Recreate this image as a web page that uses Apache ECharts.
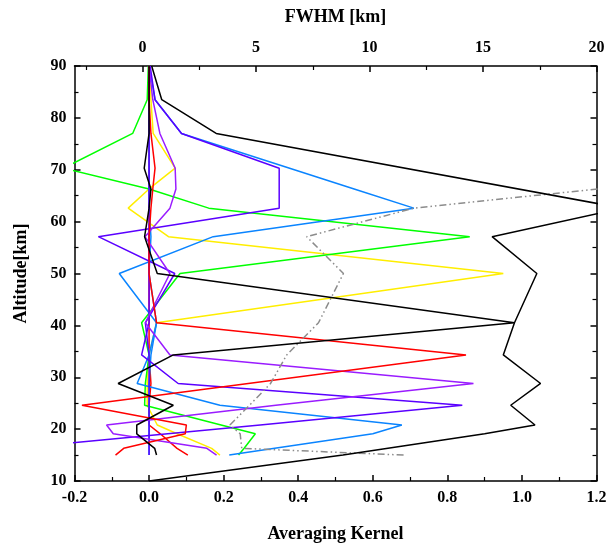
<!DOCTYPE html>
<html>
<head>
<meta charset="utf-8">
<script src="https://cdn.jsdelivr.net/npm/echarts@6/dist/echarts.min.js"></script>
<style>
  html, body { margin: 0; padding: 0; background: #fff; }
  #chart { width: 610px; height: 548px; }
</style>
</head>
<body>
<div id="chart"></div>
<script>
// Retrieval altitude levels (km) shared by the kernel rows
const altitudes = [15, 16.3, 19.1, 20.8, 24.6, 28.8, 34.3, 40.5, 50, 57.1, 62.6, 66.3, 70.3, 77, 83.5, 90];

// Averaging kernel rows, one value per altitude level
const akBlueLow   = [0.215, 0.337, 0.60, 0.678, 0.19, -0.032, 0.0, 0.02, 0.0, 0.005, 0.0, 0.0, 0.0, 0.0, 0.0, 0.0];
const akIndigoLow = [-0.30, -0.36, 0.05, 0.298, 0.84, 0.078, -0.02, 0.0, 0.0, 0.0, 0.0, 0.0, 0.0, 0.0, 0.0, 0.0];
const akViolet    = [0.181, 0.155, -0.096, -0.114, 0.34, 0.87, 0.056, -0.01, 0.056, -0.011, 0.056, 0.072, 0.07, 0.029, 0.01, 0.0];
const akRedMid    = [-0.09, -0.068, 0.097, 0.1, -0.18, 0.266, 0.85, 0.02, 0.0, 0.0, 0.005, 0.01, 0.016, 0.005, 0.0, 0.0];
const akRedLow    = [0.104, 0.075, 0.03, 0.0, 0.0, 0.005, 0.0, 0.0, 0.0, 0.0, 0.0, 0.0, 0.0, 0.0, 0.0, 0.0];
const akBlackMid  = [0.02, 0.015, -0.033, -0.033, 0.065, -0.083, 0.065, 0.98, 0.022, -0.012, 0.0, 0.005, -0.013, 0.0, 0.0, 0.0];
const akYellow    = [0.19, 0.168, 0.075, 0.022, -0.005, -0.005, 0.0, 0.02, 0.95, 0.052, -0.056, 0.0, 0.07, 0.011, 0.005, 0.003];
const akGreen     = [0.24, 0.255, 0.285, 0.193, -0.012, -0.01, 0.0, -0.02, 0.083, 0.86, 0.16, 0.0, -0.23, -0.044, -0.005, -0.002];
const akBlueHigh  = [0.0, 0.0, 0.0, 0.0, 0.0, 0.0, 0.005, 0.02, -0.08, 0.172, 0.71, 0.55, 0.377, 0.087, 0.016, 0.0];
const akIndigoHigh= [0.0, 0.0, 0.0, 0.0, 0.0, 0.0, 0.0, -0.01, 0.069, -0.136, 0.349, 0.349, 0.349, 0.087, 0.016, 0.003];

// Sum of the kernel rows (measurement response), own altitude grid
const responseAlt = [10, 15, 19.1, 20.8, 24.6, 28.8, 34.3, 40.5, 50, 57.1, 62.6, 77, 83.5, 90];
const responseVal = [0.0, 0.52, 0.90, 1.035, 0.97, 1.05, 0.95, 0.98, 1.04, 0.92, 1.27, 0.18, 0.034, 0.007];

// Vertical resolution (FWHM, km) on the kernel levels
const fwhmAlt = [15, 16.3, 19.1, 20.8, 24.6, 28.8, 34.3, 40.5, 50, 57.1, 62.6, 66.3, 70.3];
const fwhmVal = [11.5, 4.37, 4.3, 3.85, 4.71, 5.64, 6.35, 7.75, 8.85, 7.23, 11.95, 20.06, 28.0];

// Axis tick labels
const fwhmLabels = [0, 5, 10, 15, 20];
const fwhmMinor = [-2.5, 2.5, 7.5, 12.5, 17.5];

const FONT = '"Liberation Serif", "Times New Roman", serif';

function pairs(values, alts) {
  return values.map((v, i) => [v, alts[i]]);
}

function kernelSeries(values, color) {
  return {
    type: 'line',
    data: pairs(values, altitudes),
    xAxisIndex: 0, yAxisIndex: 0,
    showSymbol: false, symbol: 'none',
    lineStyle: { color: color, width: 1.5 },
    itemStyle: { color: color },
    animation: false,
    silent: true
  };
}

const labelStyle = { fontFamily: FONT, fontWeight: 'bold', fontSize: 16, color: '#000' };
const nameStyle = { fontFamily: FONT, fontWeight: 'bold', fontSize: 18, color: '#000' };
const lineBlack = { show: true, onZero: false, lineStyle: { color: '#000', width: 1.5 } };

const chart = echarts.init(document.getElementById('chart'), null, { renderer: 'canvas' });

chart.setOption({
  backgroundColor: '#fff',
  animation: false,
  grid: { left: 74.5, right: 13.5, top: 66, bottom: 61, containLabel: false },
  xAxis: [
    {
      type: 'value', position: 'bottom', min: -0.2, max: 1.2, interval: 0.2,
      name: 'Averaging Kernel', nameLocation: 'middle', nameGap: 44, nameTextStyle: nameStyle,
      axisLine: lineBlack,
      axisTick: { show: true, inside: true, length: 6, lineStyle: { color: '#000', width: 1.5 } },
      minorTick: { show: true, splitNumber: 2, length: 4, lineStyle: { color: '#000', width: 1.2 } },
      axisLabel: Object.assign({ margin: 9, formatter: v => v.toFixed(1) }, labelStyle),
      splitLine: { show: false }
    },
    {
      type: 'value', position: 'top', min: -3, max: 20,
      name: 'FWHM [km]', nameLocation: 'middle', nameGap: 40, nameTextStyle: nameStyle,
      axisLine: lineBlack,
      axisTick: { show: true, inside: true, length: 6, customValues: fwhmLabels, lineStyle: { color: '#000', width: 1.5 } },
      axisLabel: Object.assign({ margin: 10, customValues: fwhmLabels }, labelStyle),
      splitLine: { show: false }
    },
    {
      type: 'value', position: 'top', min: -3, max: 20,
      axisLine: { show: false, onZero: false },
      axisTick: { show: true, inside: true, length: 4, customValues: fwhmMinor, lineStyle: { color: '#000', width: 1.2 } },
      axisLabel: { show: false },
      splitLine: { show: false }
    }
  ],
  yAxis: [
    {
      type: 'value', position: 'left', min: 10, max: 90, interval: 10,
      name: 'Altitude[km]', nameLocation: 'middle', nameGap: 44, nameTextStyle: nameStyle,
      axisLine: lineBlack,
      axisTick: { show: true, inside: true, length: 6, lineStyle: { color: '#000', width: 1.5 } },
      minorTick: { show: true, splitNumber: 2, length: 4, lineStyle: { color: '#000', width: 1.2 } },
      axisLabel: Object.assign({ margin: 8 }, labelStyle),
      splitLine: { show: false }
    },
    {
      type: 'value', position: 'right', min: 10, max: 90, interval: 10,
      axisLine: lineBlack,
      axisTick: { show: true, inside: true, length: 6, lineStyle: { color: '#000', width: 1.5 } },
      minorTick: { show: true, splitNumber: 2, length: 4, lineStyle: { color: '#000', width: 1.2 } },
      axisLabel: { show: false },
      splitLine: { show: false }
    }
  ],
  series: [
    kernelSeries(akRedLow, '#ff0000'),
    kernelSeries(akYellow, '#ffee00'),
    kernelSeries(akGreen, '#00ff00'),
    kernelSeries(akBlueLow, '#0a84ff'),
    kernelSeries(akBlueHigh, '#0a84ff'),
    kernelSeries(akIndigoLow, '#5a00ff'),
    kernelSeries(akIndigoHigh, '#5a00ff'),
    kernelSeries(akViolet, '#9a1cff'),
    kernelSeries(akRedMid, '#ff0000'),
    {
      type: 'line', data: pairs(fwhmVal, fwhmAlt), xAxisIndex: 1, yAxisIndex: 0,
      showSymbol: false, symbol: 'none', silent: true,
      lineStyle: { color: '#8c8c8c', width: 1.5, type: [7, 3, 1.5, 3, 1.5, 3] }
    },
    kernelSeries(akBlackMid, '#000000'),
    {
      type: 'line', data: pairs(responseVal, responseAlt), xAxisIndex: 0, yAxisIndex: 0,
      showSymbol: false, symbol: 'none', silent: true,
      lineStyle: { color: '#000', width: 1.5 }
    }
  ]
});
</script>
</body>
</html>
